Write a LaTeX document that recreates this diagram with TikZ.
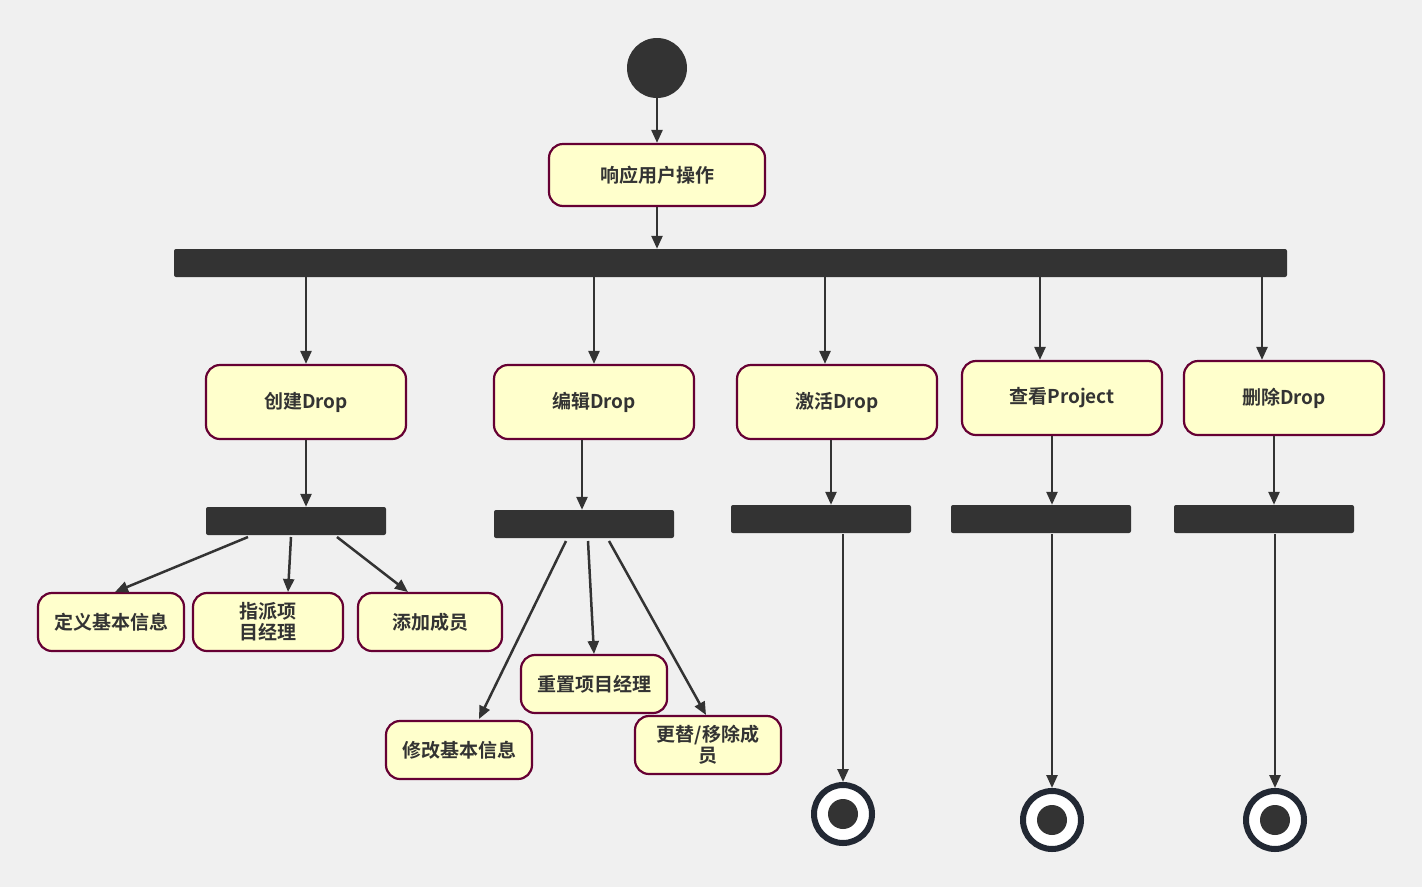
\documentclass[tikz,border=0pt]{standalone}
\usepackage{fontspec}
\setmainfont{Noto Sans CJK SC}
\newfontfamily\cjk{Noto Sans CJK SC Bold}
\usetikzlibrary{arrows.meta}
\definecolor{bg}{HTML}{F0F0F0}
\definecolor{ink}{HTML}{333333}
\definecolor{stateline}{HTML}{660033}
\definecolor{statefill}{HTML}{FFFFCC}
\definecolor{ring}{HTML}{222833}
\begin{document}
\begin{tikzpicture}[x=1pt,y=-1pt,
    state/.style = {draw=stateline, fill=statefill, line width=2.2pt,
      rounded corners=14pt, minimum height=74pt, minimum width=200pt,
      font=\cjk\fontsize{19}{21}\selectfont, text=ink, align=center, inner sep=2pt},
    small/.style = {state, minimum height=58pt, minimum width=146pt},
    bar/.style = {fill=ink, rounded corners=2pt, minimum width=180pt,
      minimum height=28pt, inner sep=0pt},
    final/.style = {circle, draw=ring, line width=6pt, fill=white,
      minimum size=58pt, inner sep=0pt},
    flow/.style = {draw=ink, line width=2.5pt, -{Triangle[length=13pt,width=11pt]}}
  ]
  \fill[bg] (0,0) rectangle (1422,887);
  \useasboundingbox (0,0) rectangle (1422,887);

  % start and first action
  \node[circle, fill=ink, minimum size=60pt, inner sep=0pt] (start) at (657,68) {};
  \node[state, minimum width=216pt, minimum height=62pt] (respond) at (657,175) {响应用户操作};
  \node[bar, minimum width=1113pt] (fork) at (730.5,263) {};
  \draw[flow] (start) -- (respond);
  \draw[flow] (respond) -- (respond |- fork.north);

  % main actions
  \node[state] (create) at (306,402) {创建Drop};
  \node[state] (edit) at (594,402) {编辑Drop};
  \node[state] (activate) at (837,402) {激活Drop};
  \node[state] (view) at (1062,398) {查看Project};
  \node[state] (delete) at (1284,398) {删除Drop};
  \foreach \n/\x in {create/306, edit/594, activate/825, view/1040, delete/1262}
    \draw[flow] (\x,277) -- (\x,0 |- \n.north);

  % bars below the actions
  \node[bar] (createbar) at (296,521) {};
  \node[bar] (editbar) at (584,524) {};
  \node[bar] (activatebar) at (821,519) {};
  \node[bar] (viewbar) at (1041,519) {};
  \node[bar] (deletebar) at (1264,519) {};
  \draw[flow] (create) -- (create |- createbar.north);
  \draw[flow] (582,440) -- (582,0 |- editbar.north);
  \draw[flow] (831,440) -- (831,0 |- activatebar.north);
  \draw[flow] (1052,436) -- (1052,0 |- viewbar.north);
  \draw[flow] (1274,436) -- (1274,0 |- deletebar.north);

  % create sub actions
  \node[small] (define) at (111,622) {定义基本信息};
  \node[small, minimum width=150pt] (assign) at (268,622) {指派项\\目经理};
  \node[small, minimum width=144pt] (addmember) at (430,622) {添加成员};
  \draw[flow] (248,537) -- (115,592);
  \draw[flow] (291,537) -- (288,592);
  \draw[flow] (337,537) -- (408,592);

  % edit sub actions
  \node[small] (modify) at (459,750) {修改基本信息};
  \node[small] (reset) at (594,684) {重置项目经理};
  \node[small] (replace) at (708,745) {更替/移除成\\员};
  \draw[flow] (566,541) -- (479,719);
  \draw[flow] (588,541) -- (594,654);
  \draw[flow] (609,541) -- (706,715);

  % final states
  \node[final] (endactivate) at (843,814) {};
  \node[final] (endview) at (1052,820) {};
  \node[final] (enddelete) at (1275,820) {};
  \foreach \e in {endactivate, endview, enddelete}
    \fill[ink] (\e) circle (15pt);
  \draw[flow] (843,534) -- (endactivate.north);
  \draw[flow] (1052,534) -- (endview.north);
  \draw[flow] (1275,534) -- (enddelete.north);
\end{tikzpicture}
\end{document}
